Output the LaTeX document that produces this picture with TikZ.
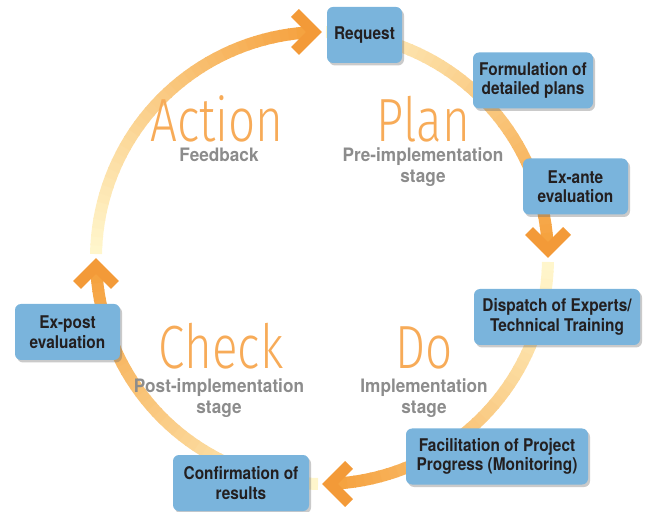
\documentclass[tikz,border=0pt]{standalone}
\usepackage{fontspec}
\setmainfont{TeX Gyre Heros}[FakeStretch=0.88]
\newfontfamily\stagefont{TeX Gyre Heros}[FakeStretch=0.93]
\newfontfamily\phasefont{Fira Sans Light}[FakeStretch=0.78]
\usepackage{tikz}
\usetikzlibrary{shadows}
\usepackage{xcolor}
\definecolor{boxblue}{RGB}{122,180,220}
\definecolor{ringorange}{RGB}{245,160,60}
\definecolor{ringpale}{RGB}{255,246,204}
\definecolor{arroworange}{RGB}{243,154,56}
\definecolor{bigorange}{RGB}{247,171,88}
\definecolor{labelgray}{RGB}{140,140,140}
\definecolor{textdark}{RGB}{35,31,32}

\begin{document}
\begin{tikzpicture}[x=1pt,y=1pt,
  box/.style={fill=boxblue,rounded corners=6pt,align=center,text=textdark,
    font=\bfseries\fontsize{17.5}{19.5}\selectfont,minimum height=56pt,inner sep=2pt,
    drop shadow={shadow xshift=2pt,shadow yshift=-2.5pt,opacity=.35,fill=black!60}},
  phase/.style={anchor=base,text=bigorange,font=\phasefont\fontsize{61}{61}\selectfont,
    inner sep=0pt,text depth=0pt},
  stage/.style={anchor=base,align=center,text=labelgray,
    font=\stagefont\bfseries\fontsize{18.5}{21}\selectfont,inner sep=0pt},
  ring/.style={line width=12pt},
  chev/.style={line width=11pt,draw=arroworange,miter limit=4}]
\useasboundingbox (0,0) rectangle (647,511);
\coordinate (c) at (322,253);
% ring, pale to orange in each quarter
\foreach \s in {90,0,-90,-180}
  \foreach \i in {0,...,39}{
    \pgfmathtruncatemacro\p{100*\i/39}
    \draw[ring,draw=ringorange!\p!ringpale] (c) ++(\s-1-2.175*\i:226pt)
      arc[start angle=\s-1-2.175*\i,end angle=\s-3.5-2.175*\i,radius=226pt];
  }
% arrow heads
\foreach \t in {0,-90,-180,-270}
  \draw[chev,shift={(c)},shift={(\t:226pt)},rotate=\t-90] (-27,19)--(-8,0)--(-27,-19);
% phases
\node[phase] (action) at (217,369) {Action};
\node[stage] (feedback) at (219,349) {Feedback};
\node[phase] (plan) at (423.5,369) {Plan};
\node[stage] (pre) at (423,328) {Pre-implementation\\stage};
\node[phase] (check) at (221,142) {Check};
\node[stage] (post) at (219,97) {Post-implementation\\stage};
\node[phase] (do) at (424,142) {Do};
\node[stage] (impl) at (424,97) {Implementation\\stage};
% steps
\node[box,minimum width=75pt] (request) at (364.5,476) {Request};
\node[box,minimum width=120pt] (plans) at (533,430.5) {Formulation of\\detailed plans};
\node[box,minimum width=105pt] (exante) at (575.5,324.5) {Ex-ante\\evaluation};
\node[box,minimum width=166pt] (dispatch) at (557,194) {Dispatch of Experts/\\Technical Training};
\node[box,minimum width=182pt] (monitor) at (497,54.5) {Facilitation of Project\\Progress (Monitoring)};
\node[box,minimum width=136pt] (results) at (241,28) {Confirmation of\\results};
\node[box,minimum width=105pt] (expost) at (67.5,179) {Ex-post\\evaluation};
\end{tikzpicture}
\end{document}
